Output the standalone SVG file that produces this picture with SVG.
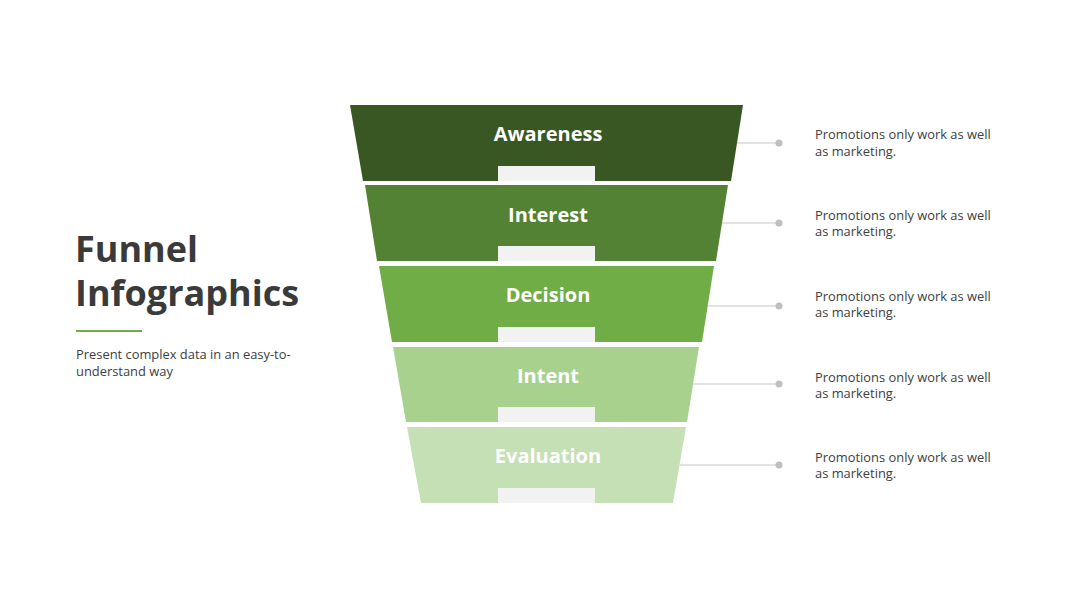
<svg xmlns="http://www.w3.org/2000/svg" width="1080" height="608" viewBox="0 0 1080 608">
<style>
.lbl{font-family:"Open Sans","Liberation Sans",sans-serif;font-weight:700;font-size:20px;fill:#ffffff;text-anchor:middle}
.desc{font-family:"Open Sans","Liberation Sans",sans-serif;font-size:12.9px;fill:#404040}
.tab{fill:#f2f2f2}
.conn{stroke:#d9d9d9;stroke-width:1.3;fill:none}
.dot{fill:#bfbfbf}
</style>
<rect width="1080" height="608" fill="#ffffff"/>
<g id="title">
<text font-family="'Open Sans','Liberation Sans',sans-serif" font-weight="700" font-size="36" fill="#3a3a3a"><tspan x="75" y="262">Funnel</tspan><tspan x="75" y="306">Infographics</tspan></text>
<line x1="76" y1="331" x2="142" y2="331" stroke="#70ad47" stroke-width="2"/>
<text class="desc"><tspan x="76" y="359">Present complex data in an easy-to-</tspan><tspan x="76" y="376">understand way</tspan></text>
</g>
<g id="connectors">
<line class="conn" x1="737" y1="143" x2="779" y2="143"/><circle class="dot" cx="779" cy="143" r="3.5"/>
<line class="conn" x1="722" y1="223" x2="779" y2="223"/><circle class="dot" cx="779" cy="223" r="3.5"/>
<line class="conn" x1="708" y1="306" x2="779" y2="306"/><circle class="dot" cx="779" cy="306" r="3.5"/>
<line class="conn" x1="693" y1="384" x2="779" y2="384"/><circle class="dot" cx="779" cy="384" r="3.5"/>
<line class="conn" x1="680" y1="465" x2="779" y2="465"/><circle class="dot" cx="779" cy="465" r="3.5"/>
</g>
<g id="awareness">
<polygon points="350,105 743,105 731,181 363,181" fill="#385723"/>
<rect class="tab" x="498" y="166" width="97" height="15"/>
<text class="lbl" x="548" y="141">Awareness</text>
<text class="desc"><tspan x="815" y="139">Promotions only work as well</tspan><tspan x="815" y="156">as marketing.</tspan></text>
</g>
<g id="interest">
<polygon points="365,185 728,185 716,261 377,261" fill="#548235"/>
<rect class="tab" x="498" y="246" width="97" height="15"/>
<text class="lbl" x="548" y="222">Interest</text>
<text class="desc"><tspan x="815" y="220">Promotions only work as well</tspan><tspan x="815" y="236">as marketing.</tspan></text>
</g>
<g id="decision">
<polygon points="379,266 714,266 702,342 392,342" fill="#70ad47"/>
<rect class="tab" x="498" y="327" width="97" height="15"/>
<text class="lbl" x="548" y="302">Decision</text>
<text class="desc"><tspan x="815" y="301">Promotions only work as well</tspan><tspan x="815" y="317">as marketing.</tspan></text>
</g>
<g id="intent">
<polygon points="393,347 699,347 687,422 406,422" fill="#a9d18e"/>
<rect class="tab" x="498" y="407" width="97" height="15"/>
<text class="lbl" x="548" y="383">Intent</text>
<text class="desc"><tspan x="815" y="382">Promotions only work as well</tspan><tspan x="815" y="398">as marketing.</tspan></text>
</g>
<g id="evaluation">
<polygon points="407,427 686,427 673,503 421,503" fill="#c5e0b4"/>
<rect class="tab" x="498" y="488" width="97" height="15"/>
<text class="lbl" x="548" y="463">Evaluation</text>
<text class="desc"><tspan x="815" y="462">Promotions only work as well</tspan><tspan x="815" y="478">as marketing.</tspan></text>
</g>
</svg>
